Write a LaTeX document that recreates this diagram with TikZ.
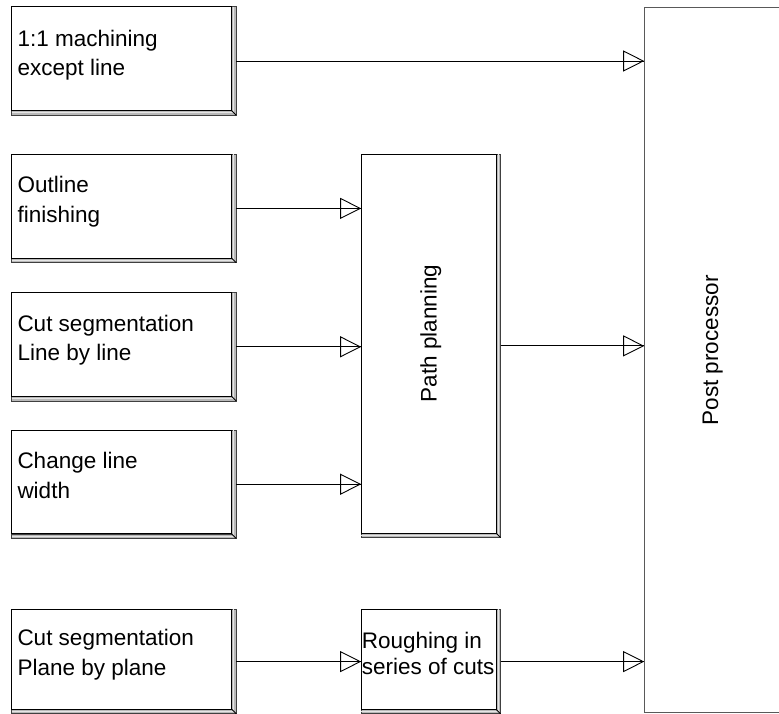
\documentclass[tikz,border=0pt]{standalone}
\usepackage{fontspec}
\setmainfont{Liberation Sans}
\usepackage{tikz}
\usetikzlibrary{arrows.meta, positioning}

\tikzset{
  blk/.style={rectangle, inner sep=0pt, minimum width=224pt, minimum height=108pt},
  lbl/.style={inner sep=0pt, align=left, font=\fontsize{22.5}{29.5}\selectfont},
  edge/.style={draw=black, line width=0.9pt},
  bevel/.style={fill=gray!55, draw=black!75, line width=0.7pt},
  flow/.style={line width=0.9pt, -{Triangle[open, length=21pt, width=21pt, line width=0.9pt]},
    postaction={draw, -}}
}

% front face plus the raised edge on the right and bottom
\newcommand{\shadebox}[1]{%
  \filldraw[bevel] ([xshift=-4.5pt]#1.north east) -- (#1.north east) -- (#1.south east)
    -- (#1.south west) -- ([yshift=4.5pt]#1.south west)
    -- ([shift={(-4.5pt,4.5pt)}]#1.south east) -- cycle;
  \draw[white!80!gray, line width=1.1pt] ([xshift=-2.3pt]#1.north east)
    -- ([shift={(-2.3pt,2.3pt)}]#1.south east) -- ([yshift=2.3pt]#1.south west);
  \draw[edge] (#1.north west) rectangle ([shift={(-4.5pt,4.5pt)}]#1.south east);
  \draw[edge] ([shift={(-4.5pt,4.5pt)}]#1.south east) -- (#1.south east);
}

\begin{document}
\begin{tikzpicture}[x=1pt, y=-1pt]
  \useasboundingbox[fill=white] (0,0) rectangle (779,713);

  % Nodes
  \node (b1) [blk] at (124,61) {};
  \node (b2) [blk, below=39pt of b1] {};
  \node (b3) [blk, below=30pt of b2] {};
  \node (b4) [blk, below=29pt of b3] {};
  \node (b5) [blk, below=71pt of b4, minimum height=104pt] {};
  \node (path) [blk, below right=0pt and 125pt of b2.north east,
    minimum width=139pt, minimum height=383pt] {};
  \node (rough) [blk, right=125pt of b5, minimum width=139pt, minimum height=104pt] {};
  \node (pp) [rectangle, draw=black!65, line width=0.9pt, inner sep=0pt,
    minimum width=136pt, minimum height=705pt,
    below right=0pt and 408pt of b1.north east] {};

  \foreach \b in {b1,b2,b3,b4,b5,path,rough}
    \shadebox{\b};

  % Texts
  \node (t1) [lbl, below right=23pt and 5.5pt of b1.north west] {1:1 machining\\except line};
  \node (t2) [lbl, below right=22pt and 5.5pt of b2.north west] {Outline\\finishing};
  \node (t3) [lbl, below right=22pt and 5.5pt of b3.north west] {Cut segmentation\\Line by line};
  \node (t4) [lbl, below right=22pt and 5.5pt of b4.north west] {Change line\\width};
  \node (t5) [lbl, below right=20pt and 5.5pt of b5.north west] {Cut segmentation\\Plane by plane};
  \node (t6) [lbl, font=\fontsize{22.5}{26}\selectfont,
    below right=23pt and 0.5pt of rough.north west] {Roughing in\\series of cuts};
  \node (t7) [lbl, rotate=90] at ([yshift=12.5pt]path.center) {Path planning};
  \node (t8) [lbl, rotate=90] at ([yshift=9.5pt]pp.center) {Post processor};

  % Edges
  \draw[flow] (b1.east) -- (b1.east -| pp.west);
  \draw[flow] (b2.east) -- (b2.east -| path.west);
  \draw[flow] (b3.east) -- (b3.east -| path.west);
  \draw[flow] (b4.east) -- (b4.east -| path.west);
  \draw[flow] (path.east) -- (path.east -| pp.west);
  \draw[flow] (b5.east) -- (rough.west);
  \draw[flow] (rough.east) -- (rough.east -| pp.west);
\end{tikzpicture}
\end{document}
